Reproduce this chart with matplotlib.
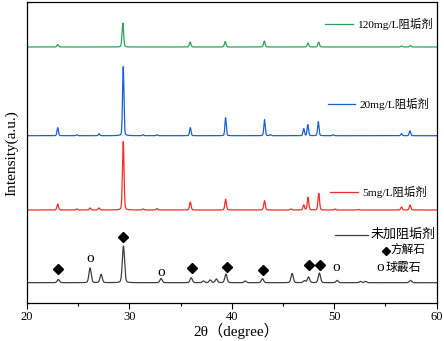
import numpy as np
import matplotlib
matplotlib.use("Agg")
import matplotlib.pyplot as plt
from matplotlib.lines import Line2D

# ---------------- data ----------------
labels = ["未加阻垢剂", "5mg/L阻垢剂", "20mg/L阻垢剂", "120mg/L阻垢剂"]
colors = ["#404040", "#f52a2a", "#1a5fd6", "#2aa35a"]
offsets = [20.3, 93.0, 167.3, 256.0]

blank_pos = [23.06, 26.16, 27.24, 29.42, 33.10, 36.04, 37.24, 37.90, 38.50, 39.43,
             41.32, 43.00, 45.90, 47.10, 47.50, 48.56, 50.29, 52.57, 53.06, 57.46]
blank_h = [3.3, 14.7, 8.3, 36.7, 4.3, 5.0, 1.7, 2.7, 3.7, 8.7,
           1.7, 4.0, 9.3, 2.0, 5.7, 9.7, 2.3, 1.3, 1.3, 2.3]

red_pos = [23.0, 24.86, 26.16, 27.04, 29.40, 31.35, 32.70, 35.95, 39.40, 43.20,
           45.80, 47.03, 47.45, 48.50, 50.10, 52.40, 56.58, 57.42]
red_h = [6.0, 1.0, 2.0, 2.0, 68.3, 1.0, 1.5, 8.0, 10.7, 9.3,
         1.0, 5.0, 12.7, 16.7, 1.0, 0.5, 3.0, 5.0]

blue_pos = [23.0, 24.86, 27.04, 29.40, 31.35, 32.70, 35.95, 39.40, 43.20, 43.77,
            47.03, 47.43, 48.45, 49.90, 56.58, 57.40]
blue_h = [8.0, 1.0, 2.0, 69.0, 1.0, 1.0, 8.0, 18.0, 16.0, 1.0,
          7.0, 11.0, 14.0, 1.0, 2.0, 5.0]

green_pos = [23.0, 29.36, 35.94, 39.36, 43.18, 47.45, 48.49, 56.58, 57.46]
green_h = [2.5, 24.0, 5.0, 5.5, 6.0, 4.0, 5.0, 1.0, 1.5]

calcite_x = [23.06, 29.42, 36.10, 39.50, 43.10, 47.58, 48.60]
calcite_y = [34.0, 65.7, 35.3, 36.3, 32.7, 37.7, 37.7]
vaterite_x = [26.16, 33.13, 50.19]
vaterite_y = [44.3, 30.3, 35.3]

xticks = [20, 30, 40, 50, 60]

# ---------------- drawing ----------------
def profile(x, pos, h, fwhm):
    y = np.zeros_like(x)
    s = fwhm / 2.3548
    g = fwhm / 2
    for p, a in zip(pos, h):
        gauss = np.exp(-0.5 * ((x - p) / s) ** 2)
        lor = g ** 2 / ((x - p) ** 2 + g ** 2)
        y += a * (0.8 * gauss + 0.2 * lor)
    return y

SER = ["Liberation Serif", "Noto Sans CJK SC"]
plt.rcParams["font.family"] = SER

fig = plt.figure(figsize=(4.44, 3.41), dpi=100)
W, H = 444, 341
ax = fig.add_axes([27 / W, (H - 303) / H, (436.5 - 27) / W, (303 - 1.5) / H])

x = np.arange(20, 60.001, 0.01)
series = [(blank_pos, blank_h, 0.26), (red_pos, red_h, 0.18),
          (blue_pos, blue_h, 0.16), (green_pos, green_h, 0.18)]
for (pos, h, fw), off, c in zip(series, offsets, colors):
    ax.plot(x, off + profile(x, pos, h, fw), color=c, lw=0.9)

ax.plot(calcite_x, calcite_y, ls="none", marker="D", ms=4.6, color="black")
for vx, vy in zip(vaterite_x, vaterite_y):
    ax.text(vx, vy, "o", ha="center", va="center", fontsize=11, family=SER)

ax.set_xlim(20, 60)
ax.set_ylim(0, 301.5)
ax.set_yticks([])
ax.set_xticks(xticks)
ax.set_xticks(np.arange(25, 60, 10), minor=True)
ax.tick_params(axis="x", which="major", direction="out", length=4, width=0.8,
               labelsize=9, pad=2)
ax.tick_params(axis="x", which="minor", direction="out", length=2.5, width=0.8)
for sp in ax.spines.values():
    sp.set_linewidth(0.9)

ax.set_xlabel("2θ（degree）", fontsize=11, labelpad=0, family=SER)
ax.xaxis.label.set_position((0.5116, 0))
fig.text(12 / W, 1 - 153 / H, "Intensity(a.u.)", rotation=90, ha="center",
         va="center", fontsize=11, family=SER)

# legend-like annotations (pixel positions)
def fx(px):
    return px / W

def fy(py):
    return 1 - py / H

leg = [(labels[3], colors[3], 325, 353, 357, 24.3, 8.2),
       (labels[2], colors[2], 328, 355, 359, 104.3, 8.2),
       (labels[1], colors[1], 330, 358, 362, 191.7, 8.2),
       (labels[0], colors[0], 335, 368, 371, 235.0, 9.4)]
for lab, c, x0, x1, tx, py, fs in leg:
    fig.add_artist(Line2D([fx(x0), fx(x1)], [fy(py), fy(py)], color=c, lw=0.9,
                          transform=fig.transFigure))
    fig.text(fx(tx), fy(py), lab, ha="left", va="center", fontsize=fs, family=SER)

fig.add_artist(Line2D([fx(386)], [fy(250.7)], marker="D", ms=4.0, color="black",
                      transform=fig.transFigure))
fig.text(fx(390), fy(250.7), "方解石", ha="left", va="center", fontsize=8.4, family=SER)
fig.text(fx(376.5), fy(267.7), "o", ha="left", va="center", fontsize=11, family=SER)
fig.text(fx(386), fy(267.7), "球霰石", ha="left", va="center", fontsize=8.6, family=SER)

fig.savefig("out.png", dpi=100)
